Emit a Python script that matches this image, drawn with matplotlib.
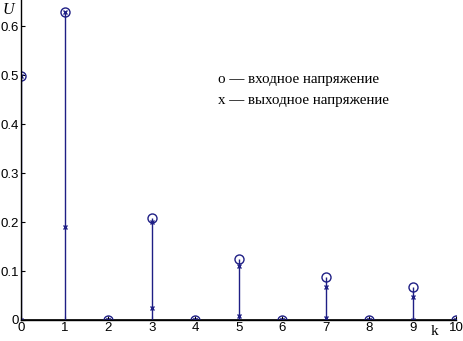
import numpy as np
import matplotlib
matplotlib.use("Agg")
import matplotlib.pyplot as plt

# ------------------------------data------------------------------
k = np.arange(0, 11)
u_in = [0.498, 0.63, 0.0, 0.208, 0.0, 0.124, 0.0, 0.088, 0.0, 0.067, 0.0]
u_out_hi = [0.498, 0.63, 0.0, 0.2, 0.0, 0.11, 0.0, 0.068, 0.0, 0.048, 0.0]
u_out_lo = [0.0, 0.19, 0.0, 0.024, 0.0, 0.009, 0.0, 0.004, 0.0, 0.0, 0.0]
y_ticks = [0, 0.1, 0.2, 0.3, 0.4, 0.5, 0.6]
y_labels = ['0', '0.1', '0.2', '0.3', '0.4', '0.5', '0.6']

col = '#1f1f85'

fig = plt.figure(figsize=(4.63, 3.41), dpi=100)
ax = fig.add_axes([0.046, 0.0616, 0.939, 0.94])

# stems of the input signal
ax.vlines(k, 0, u_in, color=col, lw=1)
ax.plot(k, u_in, 'o', mfc='none', mec=col, ms=6.5, mew=1)
ax.plot(k, u_out_hi, 'x', color=col, ms=3.5, mew=1)
ax.plot(k, u_out_lo, 'x', color=col, ms=3.5, mew=1)
ax.axhline(0, color='black', lw=1.2, zorder=0)

ax.set_xlim(0, 10)
ax.set_ylim(0, 0.655)
ax.set_xticks(k)
ax.set_yticks(y_ticks)
ax.set_yticklabels(y_labels)
ax.tick_params(direction='in', length=3, labelsize=9.5, pad=1.5, width=0.8)
for lab in ax.get_xticklabels() + ax.get_yticklabels():
    lab.set_family('Liberation Sans')

for s in ['top', 'right']:
    ax.spines[s].set_visible(False)
ax.spines['left'].set_linewidth(1)
ax.spines['bottom'].set_linewidth(1)
ax.patch.set_alpha(0)

# axis letters and the hand written legend
fig.text(0.006, 0.972, 'U', family='Liberation Serif', style='italic', fontsize=11.5, va='center')
fig.text(0.93, 0.028, 'k', family='Liberation Serif', fontsize=11, va='center')
fig.text(0.47, 0.768, 'o — входное напряжение', family='Liberation Serif', fontsize=10.8, va='center')
fig.text(0.47, 0.705, 'x — выходное напряжение', family='Liberation Serif', fontsize=10.8, va='center')

plt.savefig('out.png', dpi=100)
